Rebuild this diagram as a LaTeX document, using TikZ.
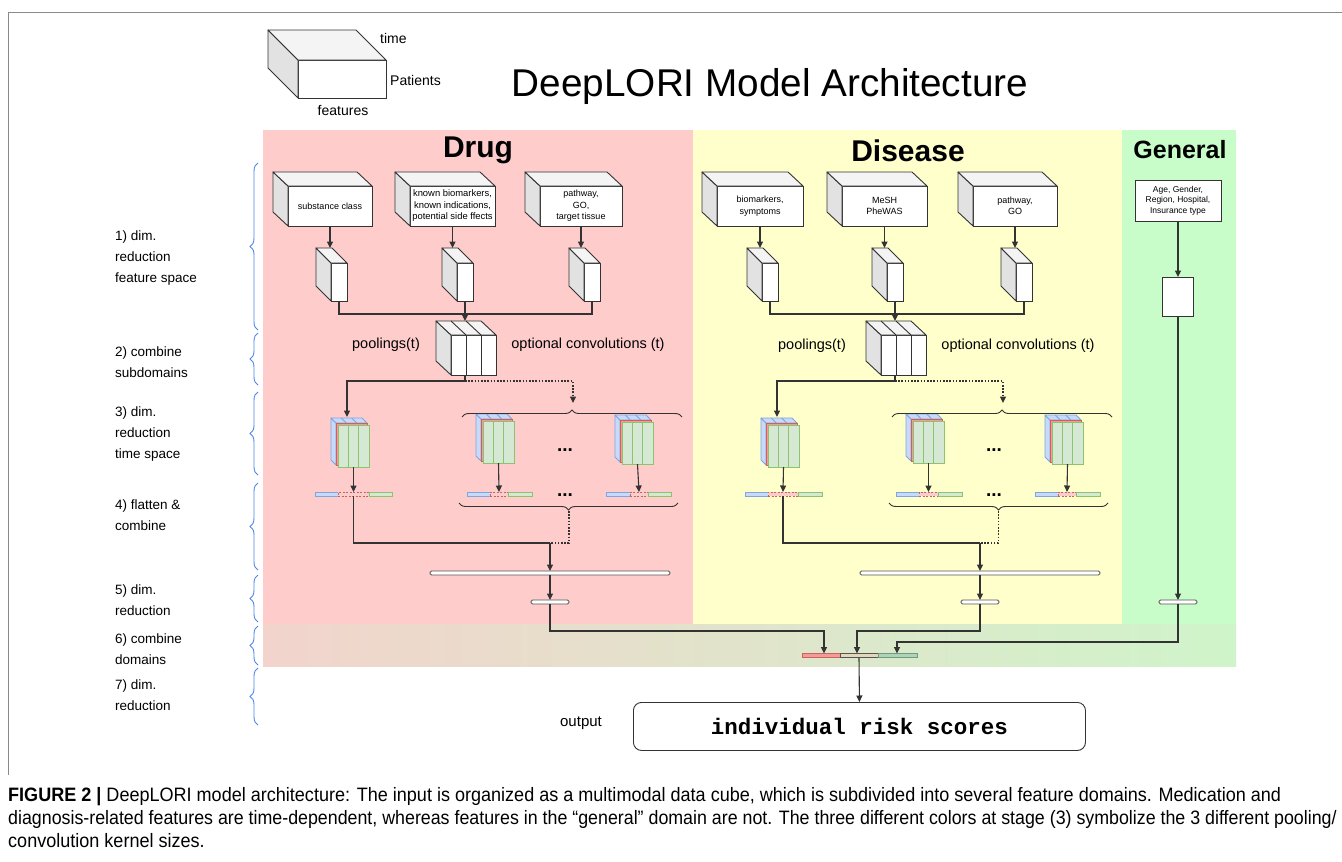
\documentclass[tikz,border=0pt]{standalone}
\usepackage{fontspec}
\setmainfont{Liberation Sans}
\newfontfamily\monofam{Liberation Mono}
\newfontfamily\capfam[FakeStretch=0.93]{Liberation Sans}
\newfontfamily\capfamnarrow[FakeStretch=0.918]{Liberation Sans}
\usetikzlibrary{calc,arrows.meta,decorations.pathreplacing}

\definecolor{drugbg}{HTML}{FFCCCC}
\definecolor{disbg}{HTML}{FFFFCC}
\definecolor{genbg}{HTML}{C8FCC8}
\definecolor{stripL}{HTML}{F2D4CC}
\definecolor{stripM}{HTML}{E4E0C8}
\definecolor{stripR}{HTML}{CFF4CA}
\definecolor{edge}{HTML}{333333}
\definecolor{bargray}{HTML}{555555}
\definecolor{sidegray}{HTML}{E2E2E2}
\definecolor{topgray}{HTML}{F4F4F4}
\definecolor{bluefill}{HTML}{C9DAF8}
\definecolor{bluedraw}{HTML}{7EA6E0}
\definecolor{redfill}{HTML}{F19C99}
\definecolor{redlight}{HTML}{F8CECC}
\definecolor{reddraw}{HTML}{D0605C}
\definecolor{greenfill}{HTML}{D5E8D4}
\definecolor{greendraw}{HTML}{8CC46E}
\definecolor{bracecol}{HTML}{4F86EC}
\definecolor{framegray}{HTML}{8A8A8A}
\definecolor{midfill}{HTML}{E3D6B9}
\definecolor{tealfill}{HTML}{AFD3B8}
\definecolor{tealdraw}{HTML}{6F9C80}

\tikzset{
  face/.style={draw=edge, line width=0.9pt, fill=white, inner sep=0pt, outer sep=0pt,
    anchor=north west, align=center, font=\fontsize{9}{11.5}\selectfont},
  faceline/.style={draw=edge, line width=0.9pt},
  conn/.style={draw=edge, line width=1.1pt},
  arr/.style={conn, -{Triangle[length=6.5pt,width=6pt]}},
  dotconn/.style={draw=edge, line width=1.1pt, dash pattern=on 1.6pt off 1.6pt},
  dotarr/.style={dotconn, -{Triangle[length=6.5pt,width=6pt]}},
  bar/.style={draw=bargray, fill=white, line width=0.9pt, rounded corners=1.5pt,
    minimum height=4pt, inner sep=0pt, outer sep=0pt},
  vecpart/.style={line width=0.8pt, minimum height=4pt, inner sep=0pt, outer sep=0pt, anchor=west},
  stage/.style={anchor=west, align=left, inner sep=0pt, font=\fontsize{13.5}{21}\selectfont},
  stagebrace/.style={draw=bracecol, line width=0.9pt, decorate, decoration={brace, amplitude=8pt}},
  groupbrace/.style={draw=edge, line width=0.9pt, decorate, decoration={brace, amplitude=7pt}},
  groupbracedown/.style={draw=edge, line width=0.9pt, decorate, decoration={brace, amplitude=7pt, mirror}},
  lbl/.style={inner sep=0pt, font=\fontsize{14.5}{17}\selectfont},
  dots/.style={inner sep=0pt, font=\fontsize{19}{19}\selectfont\bfseries},
  head/.style={anchor=base, inner sep=0pt, font=\fontsize{30}{30}\selectfont\bfseries},
  legendtxt/.style={inner sep=0pt, font=\fontsize{14}{16}\selectfont},
  captxt/.style={anchor=base west, inner sep=0pt, font=\capfam\fontsize{19.4}{22}\selectfont},
}

% side and top faces of a box whose front face is node #1, depth (#2,#3)
\newcommand\boxfaces[3]{%
  \filldraw[fill=sidegray, faceline, line join=round] (#1.north west) -- ++(-#2,-#3)
    -- ($(#1.south west)+(-#2,-#3)$) -- (#1.south west) -- cycle;
  \filldraw[fill=topgray, faceline, line join=round] (#1.north west) -- ++(-#2,-#3)
    -- ($(#1.north east)+(-#2,-#3)$) -- (#1.north east) -- cycle;
}

% three-coloured pooled block: blue and red layers behind a green front (node #1)
\newcommand\poolstack[3]{%
  \filldraw[fill=bluefill, draw=bluedraw, line width=0.8pt, line join=round]
    ({#2-2},{#3-2}) -- ({#2-7},{#3-7}) -- ({#2-7},{#3+35}) -- ({#2-2},{#3+40}) -- cycle;
  \filldraw[fill=bluefill, draw=bluedraw, line width=0.8pt, line join=round]
    ({#2-2},{#3-2}) -- ({#2-7},{#3-7}) -- ({#2+24},{#3-7}) -- ({#2+29},{#3-2}) -- cycle;
  \draw[bluedraw, line width=0.8pt] ({#2+8.3},{#3-2}) -- ({#2+3.3},{#3-7})
    ({#2+18.7},{#3-2}) -- ({#2+13.7},{#3-7});
  \filldraw[fill=redfill, draw=reddraw, line width=0.8pt] ({#2-2},{#3-2}) rectangle ({#2+29},{#3+40});
  \node[face, fill=greenfill, draw=greendraw, line width=0.8pt, minimum width=31pt, minimum height=42pt] (#1) at (#2,#3) {};
  \draw[greendraw, line width=0.8pt] ({#2+10.33},#3) -- ++(0,42) ({#2+20.67},#3) -- ++(0,42);
}

% flattened vector: blue | red (dashed) | green, segments x0..x1..x2..x3 at height y
\newcommand\flatvec[6]{%
  \node[vecpart, fill=bluefill, draw=bluedraw, minimum width={#3-#2}] (#1b) at (#2,#6) {};
  \node[vecpart, fill=redlight, draw=reddraw, dash pattern=on 2pt off 1.5pt, minimum width={#4-#3}] (#1r) at (#3,#6) {};
  \node[vecpart, fill=greenfill, draw=greendraw, minimum width={#5-#4}] (#1g) at (#4,#6) {};
}

% block of three slabs, front node #1 at (#2,#3)
\newcommand\slabstack[3]{%
  \node[face, minimum width=45pt, minimum height=40pt] (#1) at (#2,#3) {};
  \boxfaces{#1}{15}{14}
  \foreach \k in {15,30} {
    \draw[faceline] ($(#1.north west)+(\k,0)$) -- ($(#1.south west)+(\k,0)$);
    \draw[faceline] ($(#1.north west)+(\k,0)$) -- ++(-15,-14);
  }
}

\begin{document}
\begin{tikzpicture}[x=1pt,y=-1pt]
\useasboundingbox (0,0) rectangle (1342,862);
\fill[white] (0,0) rectangle (1342,862);

% frame
\draw[framegray, line width=1pt] (8,775) -- (8,12) -- (1342,12);

% legend cube
\node[face, minimum width=88pt, minimum height=38pt] (lg) at (298,60) {};
\boxfaces{lg}{30}{30}
\node[legendtxt, anchor=west] (lgT) at (380,38) {time};
\node[legendtxt, anchor=west] (lgP) at (390,80) {Patients};
\node[legendtxt] (lgF) at (343,111) {features};

% title
\node[anchor=base, inner sep=0pt, font=\fontsize{38.7}{40}\selectfont] (title) at (770,96) {DeepLORI Model Architecture};

% domain panels
\fill[drugbg] (263,130) rectangle (693,624);
\fill[disbg] (693,130) rectangle (1122,624);
\fill[genbg] (1122,130) rectangle (1236,624);
\shade[left color=stripL, middle color=stripM, right color=stripR] (263,624) rectangle (1236,666);

\node[head] (hDrug) at (478,157) {Drug};
\node[head] (hDis) at (908,161) {Disease};
\node[head, font=\fontsize{25}{25}\selectfont\bfseries] (hGen) at (1180,158) {General};

% stage labels and braces
\node[stage] (s1) at (115,258) {1) dim.\\reduction\\feature space};
\node[stage] (s2) at (115,362) {2) combine\\subdomains};
\node[stage] (s3) at (115,434) {3) dim.\\reduction\\time space};
\node[stage] (s4) at (115,515) {4) flatten \&\\combine};
\node[stage] (s5) at (115,600) {5) dim.\\reduction};
\node[stage] (s6) at (115,649) {6) combine\\domains};
\node[stage] (s7) at (115,695) {7) dim.\\reduction};
\draw[stagebrace] (258,330) -- (258,163);
\draw[stagebrace] (258,385) -- (258,333);
\draw[stagebrace] (258,475) -- (258,392);
\draw[stagebrace] (258,570) -- (258,483);
\draw[stagebrace] (258,622) -- (258,575);
\draw[stagebrace] (258,665) -- (258,626);
\draw[stagebrace] (258,725) -- (258,668);

% ---------------- Drug ----------------
\node[face, minimum width=84pt, minimum height=40pt] (dIn1) at (288,186) {substance class};
\node[face, minimum width=85pt, minimum height=40pt, font=\fontsize{9.4}{11.5}\selectfont] (dIn2) at (410,186) {known biomarkers,\\known indications,\\potential side ffects};
\node[face, minimum width=82pt, minimum height=40pt] (dIn3) at (540,186) {pathway,\\GO,\\target tissue};
\boxfaces{dIn1}{15}{14}
\boxfaces{dIn2}{15}{14}
\boxfaces{dIn3}{15}{14}

\node[face, minimum width=16pt, minimum height=38pt] (dSm1) at (331,263) {};
\node[face, minimum width=16pt, minimum height=38pt] (dSm2) at (457,263) {};
\node[face, minimum width=16pt, minimum height=38pt] (dSm3) at (584,263) {};
\boxfaces{dSm1}{15}{15}
\boxfaces{dSm2}{15}{15}
\boxfaces{dSm3}{15}{15}
\draw[arr] (dIn1.south) -- ($(dIn1.south |- dSm1.north)+(0,-15)$);
\draw[arr] (dIn2.south) -- ($(dIn2.south |- dSm2.north)+(0,-15)$);
\draw[arr] (dIn3.south) -- ($(dIn3.south |- dSm3.north)+(0,-15)$);

\slabstack{dSt}{451}{335}
\coordinate (dJ) at (465,314);
\draw[conn] (dSm1.south) |- (dJ) -| (dSm3.south);
\draw[arr] (dSm2.south) -- ($(dSm2.south |- dSt.north)+(0,-14)$);

\node[lbl] (dPoolLbl) at (386,345) {poolings(t)};
\node[lbl] (dConvLbl) at (588,345) {optional convolutions (t)};

\poolstack{dPool}{338}{425}
\poolstack{dConvA}{483}{421}
\poolstack{dConvB}{622}{422}
\node[dots] (dDots1) at (565,450) {...};

\coordinate (dSplit) at (465,381);
\coordinate (dConvIn) at (573,403);
\draw[conn] ($(dSt.south west)+(14,0)$) -- (dSplit);
\draw[arr] (dSplit) -| ($(dPool.north west)+(9,-8)$);
\draw[dotarr] (dSplit) -| (dConvIn);
\draw[groupbrace] (462,417) -- (682,417);

\flatvec{dV1}{315}{338}{369}{392}{494}
\flatvec{dV2}{467}{490}{508}{532}{494}
\flatvec{dV3}{606}{630}{648}{671}{494}
\node[dots] (dDots2) at (565,495) {...};
\draw[arr] (dPool.south) -- (dV1r.north);
\draw[arr] (dConvA.south) -- (dV2r.north);
\draw[arr] (dConvB.south) -- (dV3r.north);
\draw[groupbracedown] (459,503) -- (678,503);

\node[bar, minimum width=240pt] (dBar) at (550,573) {};
\node[bar, minimum width=38pt] (dSBar) at (550,602) {};
\coordinate (dJ2) at (550,543);
\coordinate (dConvOut) at (569,511);
\draw[conn] (dV1r.south) |- (dJ2);
\draw[dotconn] (dConvOut) |- (dJ2);
\draw[arr] (dJ2) -- (dBar.north);
\draw[arr] (dBar.south) -- (dSBar.north);

% ---------------- Disease ----------------
\node[face, minimum width=86pt, minimum height=40pt] (sIn1) at (717,186) {biomarkers,\\symptoms};
\node[face, minimum width=85pt, minimum height=40pt] (sIn2) at (842,186) {MeSH\\PheWAS};
\node[face, minimum width=84pt, minimum height=40pt] (sIn3) at (973,186) {pathway,\\GO};
\boxfaces{sIn1}{15}{14}
\boxfaces{sIn2}{15}{14}
\boxfaces{sIn3}{15}{14}

\node[face, minimum width=16pt, minimum height=38pt] (sSm1) at (762,263) {};
\node[face, minimum width=16pt, minimum height=38pt] (sSm2) at (887,263) {};
\node[face, minimum width=16pt, minimum height=38pt] (sSm3) at (1016,263) {};
\boxfaces{sSm1}{15}{15}
\boxfaces{sSm2}{15}{15}
\boxfaces{sSm3}{15}{15}
\draw[arr] (sIn1.south) -- ($(sIn1.south |- sSm1.north)+(0,-15)$);
\draw[arr] (sIn2.south) -- ($(sIn2.south |- sSm2.north)+(0,-15)$);
\draw[arr] (sIn3.south) -- ($(sIn3.south |- sSm3.north)+(0,-15)$);

\slabstack{sSt}{881}{335}
\coordinate (sJ) at (895,314);
\draw[conn] (sSm1.south) |- (sJ) -| (sSm3.south);
\draw[arr] (sSm2.south) -- ($(sSm2.south |- sSt.north)+(0,-14)$);

\node[lbl] (sPoolLbl) at (812,346) {poolings(t)};
\node[lbl] (sConvLbl) at (1018,346) {optional convolutions (t)};

\poolstack{sPool}{768}{425}
\poolstack{sConvA}{913}{421}
\poolstack{sConvB}{1052}{422}
\node[dots] (sDots1) at (994,450) {...};

\coordinate (sSplit) at (895,381);
\coordinate (sConvIn) at (1003,403);
\draw[conn] ($(sSt.south west)+(14,0)$) -- (sSplit);
\draw[arr] (sSplit) -| ($(sPool.north west)+(9,-8)$);
\draw[dotarr] (sSplit) -| (sConvIn);
\draw[groupbrace] (892,417) -- (1112,417);

\flatvec{sV1}{745}{768}{798}{822}{494}
\flatvec{sV2}{896}{919}{938}{962}{494}
\flatvec{sV3}{1035}{1058}{1076}{1100}{494}
\node[dots] (sDots2) at (994,495) {...};
\draw[arr] (sPool.south) -- (sV1r.north);
\draw[arr] (sConvA.south) -- (sV2r.north);
\draw[arr] (sConvB.south) -- (sV3r.north);
\draw[groupbracedown] (889,503) -- (1108,503);

\node[bar, minimum width=240pt] (sBar) at (980,573) {};
\node[bar, minimum width=38pt] (sSBar) at (980,602) {};
\coordinate (sJ2) at (980,543);
\coordinate (sConvOut) at (998.5,511);
\draw[conn] (sV1r.south) |- (sJ2);
\draw[dotconn] (sConvOut) |- (sJ2);
\draw[arr] (sJ2) -- (sBar.north);
\draw[arr] (sBar.south) -- (sSBar.north);

% ---------------- General ----------------
\node[face, minimum width=86pt, minimum height=41pt, font=\fontsize{8.5}{10.5}\selectfont] (gIn) at (1135,180) {Age, Gender,\\Region, Hospital,\\Insurance type};
\node[face, minimum width=31pt, minimum height=39pt] (gSm) at (1162.5,277) {};
\node[bar, minimum width=38pt] (gSBar) at (1178,602) {};
\draw[arr] (gIn.south) -- (gSm.north);
\draw[arr] (gSm.south) -- (gSBar.north);

% ---------------- combine domains ----------------
\node[vecpart, fill=redfill, draw=reddraw, minimum width=38pt] (fr) at (802,655.5) {};
\node[vecpart, fill=midfill, draw=bargray, minimum width=38pt] (fm) at (840,655.5) {};
\node[vecpart, fill=tealfill, draw=tealdraw, minimum width=39pt] (fg) at (878,655.5) {};
\coordinate (cD) at (824,631);
\coordinate (cS) at (857,631);
\coordinate (cG) at (897,642);
\draw[arr] (dSBar.south) |- (cD) -- (cD |- fr.north);
\draw[arr] (sSBar.south) |- (cS) -- (cS |- fm.north);
\draw[arr] (gSBar.south) |- (cG) -- (cG |- fg.north);

% ---------------- output ----------------
\node[draw=edge, line width=0.9pt, rounded corners=8pt, minimum width=452pt, minimum height=48pt,
  inner sep=0pt, anchor=north west, font=\monofam\bfseries\fontsize{22.5}{22.5}\selectfont] (out) at (633,702) {individual risk scores};
\node[inner sep=0pt, font=\fontsize{15}{17}\selectfont] (outLbl) at (581,723) {output};
\draw[arr] (fm.south) -- (out.north);

% caption
\node[captxt] (cap1) at (8,801) {\textbf{FIGURE 2 |} DeepLORI model architecture: The input is organized as a multimodal data cube, which is subdivided into several feature domains. Medication and};
\node[captxt, font=\capfamnarrow\fontsize{19.4}{22}\selectfont] (cap2) at (8,824) {diagnosis-related features are time-dependent, whereas features in the “general” domain are not. The three different colors at stage (3) symbolize the 3 different pooling/};
\node[captxt] (cap3) at (8,847) {convolution kernel sizes.};
\end{tikzpicture}
\end{document}
